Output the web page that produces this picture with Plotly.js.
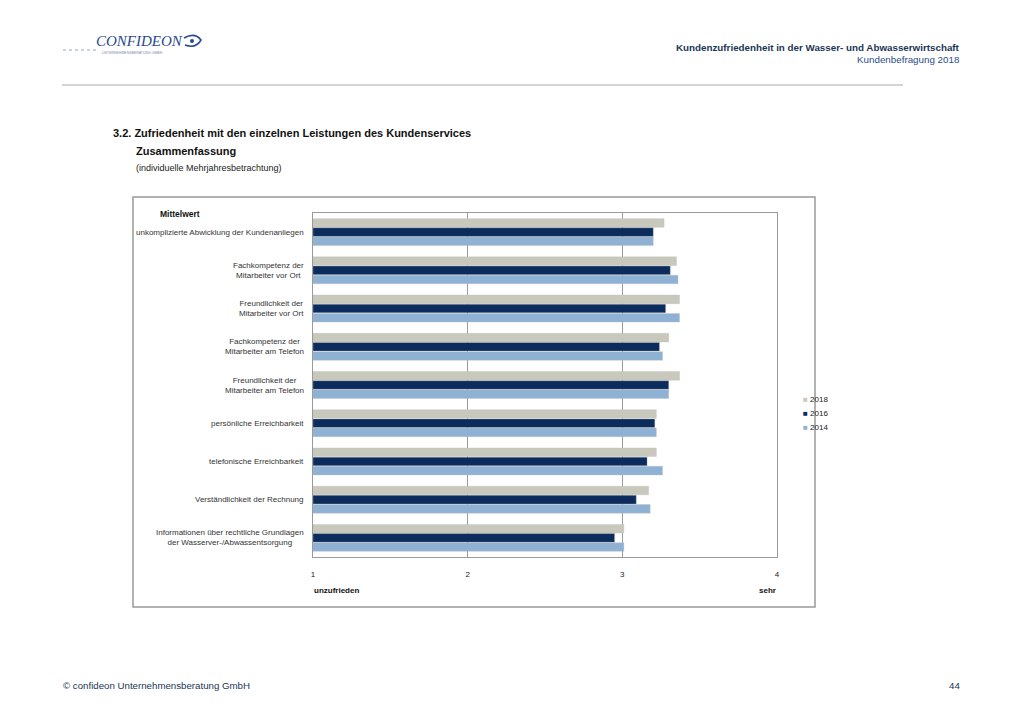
<!DOCTYPE html>
<html>
<head>
<meta charset="utf-8">
<script src="https://cdn.plot.ly/plotly-3.0.1.min.js"></script>
<style>html,body{margin:0;padding:0;background:#fff;}#chart{width:1024px;height:719px;}</style>
</head>
<body>
<div id="chart"></div>
<script>
// ---- data ----
var categories = [
  "unkomplizierte Abwicklung der Kundenanliegen",
  "Fachkompetenz der<br>Mitarbeiter vor Ort",
  "Freundlichkeit der<br>Mitarbeiter vor Ort",
  "Fachkompetenz der<br>Mitarbeiter am Telefon",
  "Freundlichkeit der<br>Mitarbeiter am Telefon",
  "persönliche Erreichbarkeit",
  "telefonische Erreichbarkeit",
  "Verständlichkeit der Rechnung",
  "Informationen über rechtliche Grundlagen<br>der Wasserver-/Abwassentsorgung"
];
var seriesNames = ["2018", "2016", "2014"];
var values2018 = [3.27, 3.35, 3.37, 3.30, 3.37, 3.22, 3.22, 3.17, 3.01];
var values2016 = [3.20, 3.31, 3.28, 3.24, 3.30, 3.21, 3.16, 3.09, 2.95];
var values2014 = [3.20, 3.36, 3.37, 3.26, 3.30, 3.22, 3.26, 3.18, 3.01];
var xTickVals = [1, 2, 3, 4];
var xTickText = ["1", "2", "3", "4"];

// ---- layout geometry (pixels) ----
var W = 1024, H = 719;
var PL = 313, PR = 777, PT = 213, PB = 557;
function px(x) { return (x - PL) / (PR - PL); }
function py(y) { return (PB - y) / (PB - PT); }

var FONT = "Arial, 'Liberation Sans', sans-serif";
var colors = ["#c8c8bd", "#0b2c5c", "#8fb1d4"];
var allVals = [values2018, values2016, values2014];

var traces = seriesNames.map(function (n, i) {
  return {
    type: "bar", orientation: "h", name: n,
    y: categories,
    x: allVals[i].map(function (v) { return v - 1; }),
    base: 1,
    marker: { color: colors[i], line: { color: "rgba(190,190,190,0.6)", width: 0.6 } },
    showlegend: false,
    hoverinfo: "name"
  };
});

var annotations = [];
function txt(text, x, y, opts) {
  var a = Object.assign({
    text: text, xref: "paper", yref: "paper", x: px(x), y: py(y),
    showarrow: false, xanchor: "left", yanchor: "middle",
    font: { family: FONT, size: 9, color: "#222" }
  }, opts || {});
  annotations.push(a);
}

// category labels
categories.forEach(function (c) {
  annotations.push({
    text: c, xref: "paper", yref: "y", x: px(306), y: c,
    showarrow: false, xanchor: "right", yanchor: "middle", align: "center",
    font: { family: FONT, size: 8, color: "#333" }
  });
});

// legend (built from series names and colours)
seriesNames.forEach(function (n, i) {
  txt("<span style='color:" + colors[i] + "'>■</span> " + n, 801, 399 + 14 * i,
      { font: { family: FONT, size: 8, color: "#222" } });
});

// header
txt("<b>Kundenzufriedenheit in der Wasser- und Abwasserwirtschaft</b>", 962, 47, { xanchor: "right", font: { family: FONT, size: 9.8, color: "#1c3557" } });
txt("Kundenbefragung 2018", 962, 59, { xanchor: "right", font: { family: FONT, size: 9.8, color: "#2a4d8a" } });
// logo
txt("<i>CONFIDEON</i>", 94, 41, { font: { family: "'Liberation Serif', 'DejaVu Serif', serif", size: 15, color: "#2b4a8f" } });
txt("UNTERNEHMENSBERATUNG GMBH", 100, 49.5, { yanchor: "top", font: { family: FONT, size: 3.5, color: "#7f8fb0" } });
// titles
txt("<b>3.2. Zufriedenheit mit den einzelnen Leistungen des Kundenservices</b>", 111, 133, { font: { family: FONT, size: 11, color: "#111" } });
txt("<b>Zusammenfassung</b>", 134, 151, { font: { family: FONT, size: 11, color: "#111" } });
txt("(individuelle Mehrjahresbetrachtung)", 134, 168, { font: { family: FONT, size: 9, color: "#222" } });
// chart labels
txt("<b>Mittelwert</b>", 158, 214, { font: { family: FONT, size: 8.5, color: "#111" } });
txt("<b>unzufrieden</b>", 312, 590, { font: { family: FONT, size: 8, color: "#111" } });
txt("<b>sehr</b>", 778, 590, { xanchor: "right", font: { family: FONT, size: 8, color: "#111" } });
// footer
txt("© confideon Unternehmensberatung GmbH", 61, 685, { font: { family: FONT, size: 9.7, color: "#1c3557" } });
txt("44", 962, 685, { xanchor: "right", font: { family: FONT, size: 9.7, color: "#1c3557" } });

var shapes = [
  { type: "line", xref: "paper", yref: "paper", x0: px(62), x1: px(903), y0: py(85), y1: py(85), line: { color: "#aaaaaa", width: 1 } },
  { type: "rect", xref: "paper", yref: "paper", x0: px(133), x1: px(815), y0: py(197), y1: py(607), line: { color: "#999999", width: 1.5 }, fillcolor: "rgba(0,0,0,0)", layer: "below" },
  { type: "line", xref: "paper", yref: "paper", x0: px(63), x1: px(97), y0: py(50), y1: py(50), line: { color: "#7f8fb0", width: 0.8, dash: "dot" } },
  { type: "path", xref: "paper", yref: "paper",
    path: "M " + px(184) + "," + py(38) + " Q " + px(195) + "," + py(32) + " " + px(201) + "," + py(40) + " Q " + px(196) + "," + py(49) + " " + px(185) + "," + py(45),
    line: { color: "#2b4a8f", width: 1.6 } },
  { type: "circle", xref: "paper", yref: "paper", x0: px(190), x1: px(194), y0: py(39), y1: py(43), fillcolor: "#2b4a8f", line: { width: 0 } }
];

var layout = {
  width: W, height: H,
  margin: { l: PL, r: W - PR, t: PT, b: H - PB, pad: 0 },
  paper_bgcolor: "#ffffff", plot_bgcolor: "#ffffff",
  font: { family: FONT, size: 8, color: "#222" },
  barmode: "group", bargap: 0.28, bargroupgap: 0.06,
  showlegend: false,
  xaxis: {
    range: [1, 4], tickvals: xTickVals, ticktext: xTickText,
    showgrid: true, gridcolor: "#9a9a9a", gridwidth: 1,
    showline: true, linecolor: "#9a9a9a", linewidth: 1, mirror: true,
    zeroline: false, ticks: "", ticklabelstandoff: 9,
    tickfont: { family: FONT, size: 8, color: "#222" },
    fixedrange: true
  },
  yaxis: {
    type: "category", autorange: "reversed", showticklabels: false,
    showgrid: false, showline: true, linecolor: "#9a9a9a", linewidth: 1, mirror: true,
    ticks: "", fixedrange: true
  },
  annotations: annotations,
  shapes: shapes
};

Plotly.newPlot("chart", traces, layout, { displayModeBar: false, staticPlot: true });
</script>
</body>
</html>
